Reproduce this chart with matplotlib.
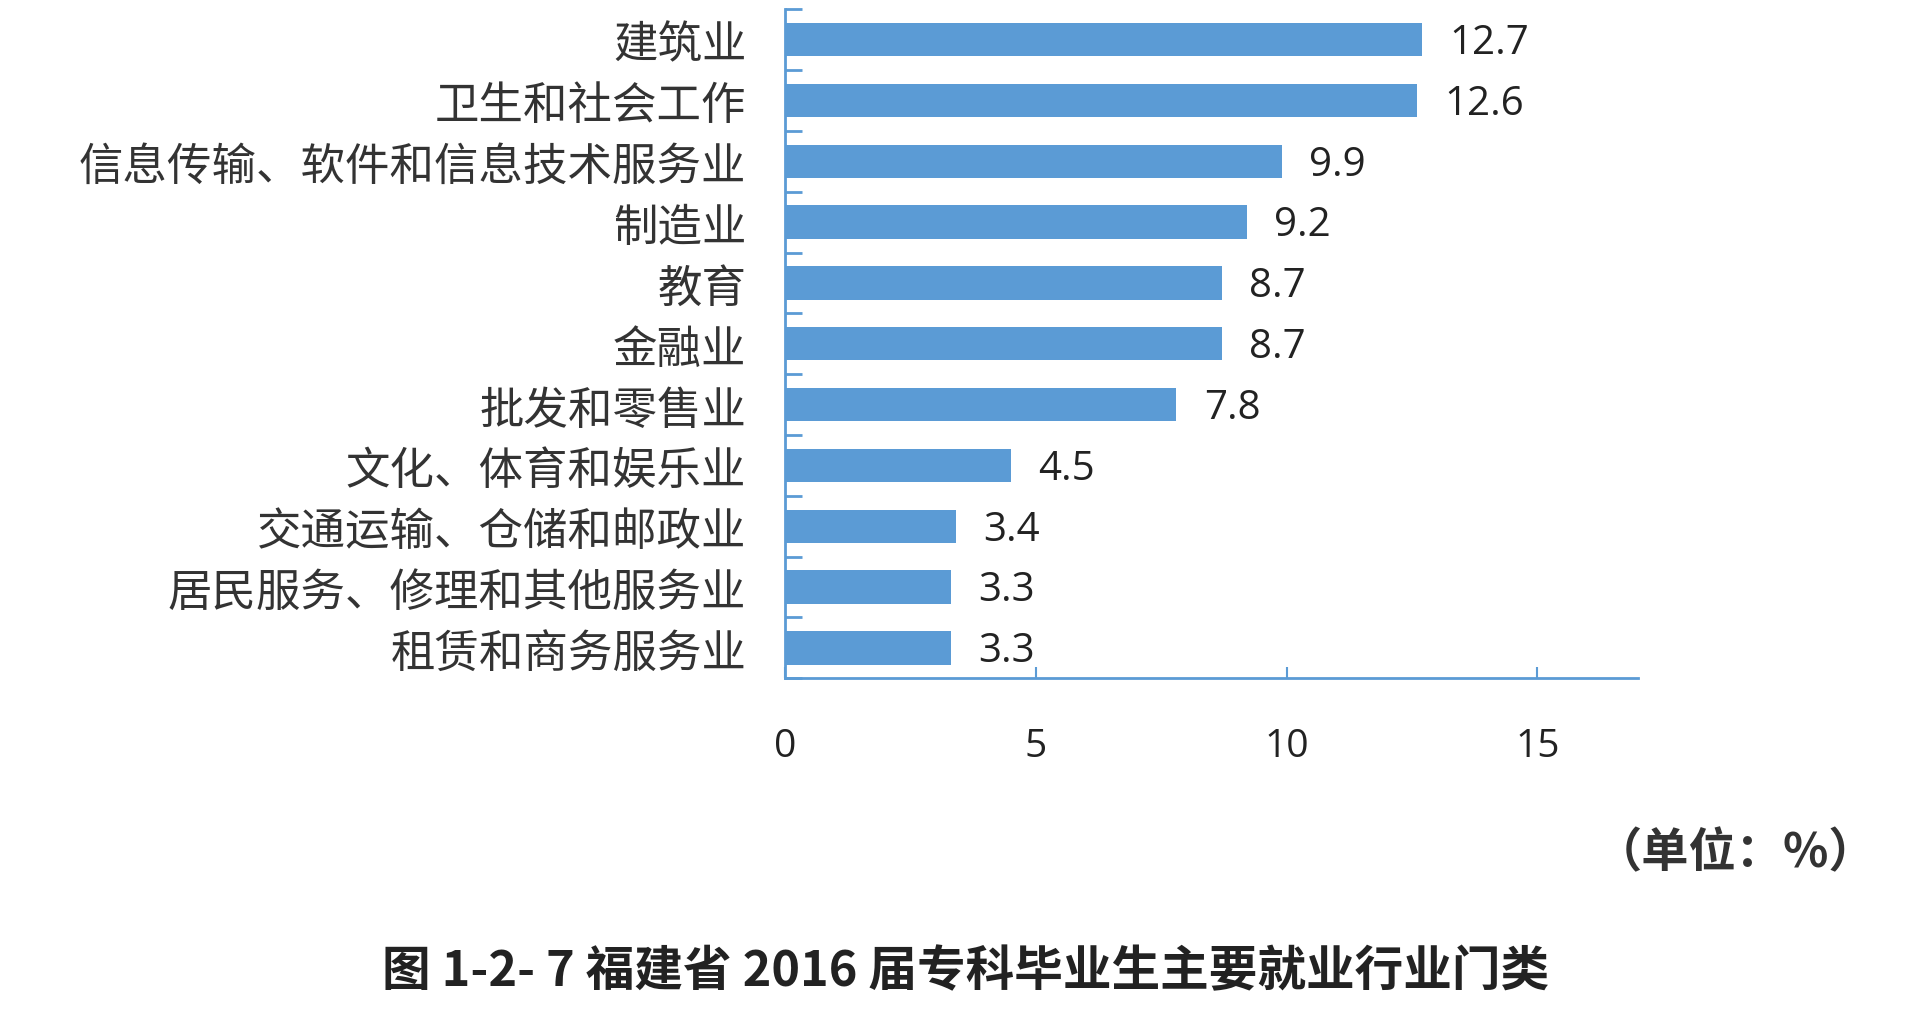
import numpy as np
import matplotlib.pyplot as plt

# 数据（单位：%）
industries = ['建筑业', '卫生和社会工作', '信息传输、软件和信息技术服务业', '制造业', '教育',
              '金融业', '批发和零售业', '文化、体育和娱乐业', '交通运输、仓储和邮政业',
              '居民服务、修理和其他服务业', '租赁和商务服务业']
shares = [12.7, 12.6, 9.9, 9.2, 8.7, 8.7, 7.8, 4.5, 3.4, 3.3, 3.3]
x_ticks = [0, 5, 10, 15]

plt.rcParams['font.family'] = ['Noto Sans CJK SC', 'DejaVu Sans']
blue = '#5B9BD5'

fig = plt.figure(figsize=(19.2, 10.2), dpi=100)
ax = fig.add_axes([0.409, 0.334, 0.444, 0.656])

y = np.arange(len(industries))
ax.barh(y, shares, height=0.55, color=blue)

# 数据标签
for yi, v in zip(y, shares):
    ax.text(v + 0.55, yi + 0.05, f'{v}', va='center', ha='left', fontsize=29,
            family=['Open Sans', 'DejaVu Sans'], color='#222222')

ax.set_xlim(0, 17)
ax.set_ylim(len(industries) - 0.5, -0.5)
ax.set_yticks(y)
ax.set_yticklabels(industries, fontsize=32, color='#333333')
ax.set_yticks(np.arange(len(industries) + 1) - 0.5, minor=True)
ax.set_xticks(x_ticks)
ax.set_xticklabels([str(t) for t in x_ticks], fontsize=28, family=['Open Sans', 'DejaVu Sans'],
                   color='#222222')

ax.tick_params(axis='y', which='major', length=0, pad=28)
ax.tick_params(axis='y', which='minor', direction='in', length=12, width=2, color=blue)
ax.tick_params(axis='x', which='major', direction='in', length=8, width=1.5, color=blue, pad=35)

for s in ['top', 'right']:
    ax.spines[s].set_visible(False)
for s in ['left', 'bottom']:
    ax.spines[s].set_color(blue)
    ax.spines[s].set_linewidth(2)

fig.text(0.977, 0.163, '（单位：%）', ha='right', va='center', fontsize=34, fontweight='bold',
         color='#333333')
fig.text(0.503, 0.047, '图 1-2- 7 福建省 2016 届专科毕业生主要就业行业门类', ha='center', va='center',
         fontsize=35, fontweight='bold', color='#222222')

plt.savefig('out.png', dpi=100)
